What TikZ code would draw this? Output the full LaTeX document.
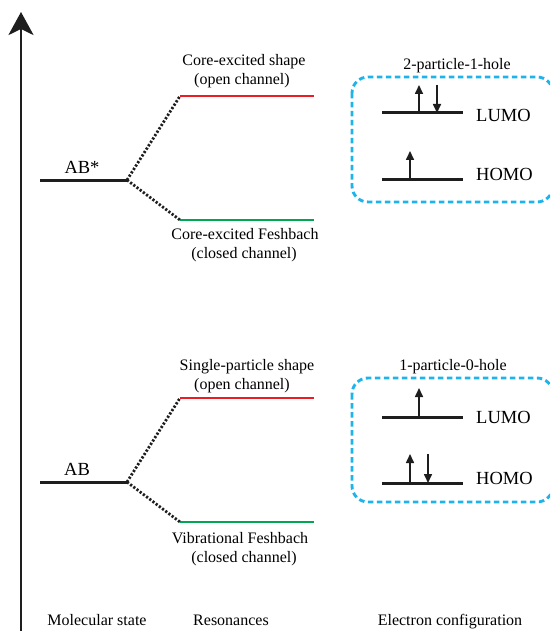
\documentclass[tikz,border=0pt]{standalone}
\usepackage{fontspec}
\setmainfont{Liberation Serif}
\usetikzlibrary{arrows.meta}
\definecolor{boxblue}{RGB}{30,180,235}
\definecolor{resred}{RGB}{237,28,36}
\definecolor{resgreen}{RGB}{0,166,81}
\definecolor{inkblack}{RGB}{30,30,30}
\begin{document}
\begin{tikzpicture}[x=1pt,y=-1pt,
  level/.style={line width=3pt, draw=inkblack},
  redlevel/.style={line width=2.8pt, draw=resred},
  greenlevel/.style={line width=2.8pt, draw=resgreen},
  conn/.style={line width=2.8pt, draw=inkblack, dash pattern=on 2.2pt off 1.8pt},
  spin/.style={line width=1.6pt, draw=inkblack, -{Triangle[length=9pt,width=8pt]}},
  lbl/.style={font=\fontsize{16}{19}\selectfont, inner sep=0pt, anchor=base},
  big/.style={font=\fontsize{18.5}{22}\selectfont, inner sep=0pt, anchor=base},
  orb/.style={font=\fontsize{18.5}{22}\selectfont, inner sep=0pt, anchor=base west},
  cfgbox/.style={draw=boxblue, line width=2.9pt, dash pattern=on 5.5pt off 3.5pt, rounded corners=16pt},
  axis/.style={line width=2.8pt, draw=inkblack, -{Stealth[length=23pt,width=25pt,inset=6pt]}}
]
\useasboundingbox (0,0) rectangle (550,631);
\clip (0,0) rectangle (550,631);

% energy axis
\coordinate (axb) at (21,640);
\coordinate (axt) at (21,12);
\draw[axis] (axb) -- (axt);

% ---------- upper block: AB* ----------
\coordinate (ABsL) at (40,180);
\coordinate (ABsR) at (127,180);
\draw[level] (ABsL) -- (ABsR);
\node[big] (ABsLbl) at (82,173) {AB*};

\coordinate (ceSL) at (180,96);
\coordinate (ceSR) at (314,96);
\draw[redlevel] (ceSL) -- (ceSR);
\coordinate (ceFL) at (180,220);
\coordinate (ceFR) at (314,220);
\draw[greenlevel] (ceFL) -- (ceFR);
\draw[conn] (ABsR) -- (ceSL);
\draw[conn] (ABsR) -- (ceFL);

\node[lbl] (ceS1) at (244,66) {Core-excited shape};
\node[lbl] (ceS2) at (242,85) {(open channel)};
\node[lbl] (ceF1) at (245,239) {Core-excited Feshbach};
\node[lbl] (ceF2) at (244,258) {(closed channel)};

\node[lbl] (tph) at (457,70) {2-particle-1-hole};
\draw[cfgbox] (352,77) rectangle (553,202);

\coordinate (uLL) at (382,113);
\coordinate (uLR) at (463,113);
\coordinate (uHL) at (382,179);
\coordinate (uHR) at (463,179);
\draw[level] (uLL) -- (uLR);
\draw[level] (uHL) -- (uHR);
\node[orb] (uLumo) at (476,122) {LUMO};
\node[orb] (uHomo) at (476,181) {HOMO};

\coordinate (uL1a) at (419,113);
\coordinate (uL1b) at (419,85);
\draw[spin] (uL1a) -- (uL1b);
\coordinate (uL2a) at (437,85);
\coordinate (uL2b) at (437,113);
\draw[spin] (uL2a) -- (uL2b);
\coordinate (uH1a) at (410,179);
\coordinate (uH1b) at (410,151);
\draw[spin] (uH1a) -- (uH1b);

% ---------- lower block: AB ----------
\coordinate (ABL) at (40,482);
\coordinate (ABR) at (127,482);
\draw[level] (ABL) -- (ABR);
\node[big] (ABLbl) at (77,475) {AB};

\coordinate (spSL) at (180,398);
\coordinate (spSR) at (314,398);
\draw[redlevel] (spSL) -- (spSR);
\coordinate (vFL) at (180,522);
\coordinate (vFR) at (314,522);
\draw[greenlevel] (vFL) -- (vFR);
\draw[conn] (ABR) -- (spSL);
\draw[conn] (ABR) -- (vFL);

\node[lbl] (spS1) at (247,370) {Single-particle shape};
\node[lbl] (spS2) at (242,389) {(open channel)};
\node[lbl] (vF1) at (240,543) {Vibrational Feshbach};
\node[lbl] (vF2) at (244,562) {(closed channel)};

\node[lbl] (oph) at (453,370) {1-particle-0-hole};
\draw[cfgbox] (352,378) rectangle (553,502);

\coordinate (lLL) at (382,417);
\coordinate (lLR) at (463,417);
\coordinate (lHL) at (382,483);
\coordinate (lHR) at (463,483);
\draw[level] (lLL) -- (lLR);
\draw[level] (lHL) -- (lHR);
\node[orb] (lLumo) at (476,423) {LUMO};
\node[orb] (lHomo) at (476,484) {HOMO};

\coordinate (lL1a) at (419,417);
\coordinate (lL1b) at (419,388);
\draw[spin] (lL1a) -- (lL1b);
\coordinate (lH1a) at (410,483);
\coordinate (lH1b) at (410,454);
\draw[spin] (lH1a) -- (lH1b);
\coordinate (lH2a) at (428,454);
\coordinate (lH2b) at (428,483);
\draw[spin] (lH2a) -- (lH2b);

% ---------- column captions ----------
\node[lbl] (capMol) at (97,625) {Molecular state};
\node[lbl] (capRes) at (231,625) {Resonances};
\node[lbl] (capEl) at (450,625) {Electron configuration};
\end{tikzpicture}
\end{document}
